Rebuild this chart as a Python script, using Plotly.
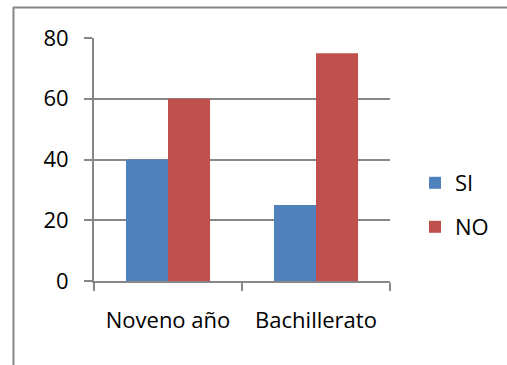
import plotly.graph_objects as go

categories = ["Noveno año", "Bachillerato"]
si_values = [40, 25]
no_values = [60, 75]
y_ticks = [0, 20, 40, 60, 80]

FONT = "Open Sans, sans-serif"
FS = 22
W, H = 507, 365
L, R, T, B = 94, 117, 38, 84
pw = W - L - R
ph = H - T - B

fig = go.Figure()
fig.add_trace(go.Bar(name="SI", x=categories, y=si_values, marker_color="#4F81BD",
                     marker_line_width=0, legend="legend"))
fig.add_trace(go.Bar(name="NO", x=categories, y=no_values, marker_color="#C0504D",
                     marker_line_width=0, legend="legend2"))

def px_to_paper_x(px):
    return (px - L) / pw

def py_to_paper_y(py):
    return (H - B - py) / ph

fig.update_layout(
    width=W, height=H,
    margin=dict(l=L, r=R, t=T, b=B, pad=0, autoexpand=False),
    paper_bgcolor="white", plot_bgcolor="white",
    barmode="group", bargap=0.432, bargroupgap=0,
    font=dict(family=FONT, size=FS, color="black"),
    showlegend=True,
    legend=dict(x=px_to_paper_x(415), y=py_to_paper_y(183), xanchor="left", yanchor="middle",
                font=dict(size=FS), bgcolor="rgba(0,0,0,0)", borderwidth=0, itemwidth=30),
    legend2=dict(x=px_to_paper_x(415), y=py_to_paper_y(227), xanchor="left", yanchor="middle",
                 font=dict(size=FS), bgcolor="rgba(0,0,0,0)", borderwidth=0, itemwidth=30),
    xaxis=dict(showline=True, linecolor="#868686", linewidth=2, ticks="outside",
               tickson="boundaries", ticklen=8, tickcolor="#868686", tickwidth=2,
               showgrid=False, ticklabelstandoff=19, tickfont=dict(size=FS)),
    yaxis=dict(range=[0, 80], tickvals=y_ticks, showline=True, linecolor="#868686",
               linewidth=2, ticks="outside", ticklen=8, tickcolor="#868686", tickwidth=2,
               showgrid=True, gridcolor="#868686", gridwidth=2, zeroline=False,
               ticklabelstandoff=11, tickfont=dict(size=FS)),
    shapes=[
        dict(type="line", xref="paper", yref="paper",
             x0=px_to_paper_x(13), x1=px_to_paper_x(507), y0=py_to_paper_y(7.5), y1=py_to_paper_y(7.5),
             line=dict(color="#868686", width=2)),
        dict(type="line", xref="paper", yref="paper",
             x0=px_to_paper_x(13.5), x1=px_to_paper_x(13.5), y0=py_to_paper_y(7), y1=py_to_paper_y(366),
             line=dict(color="#868686", width=2)),
    ],
)

fig.write_html("out.html", config={"displayModeBar": False},
               post_script="document.body.style.margin='0';document.body.style.overflow='hidden';")
